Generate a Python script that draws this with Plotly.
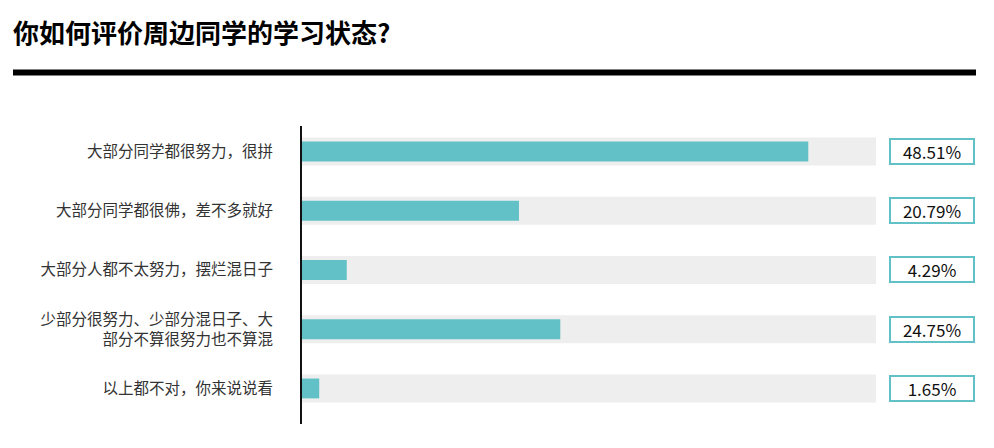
import plotly.graph_objects as go

# survey answers, top to bottom
categories = [
    "大部分同学都很努力，很拼",
    "大部分同学都很佛，差不多就好",
    "大部分人都不太努力，摆烂混日子",
    "少部分很努力、少部分混日子、大<br>部分不算很努力也不算混",
    "以上都不对，你来说说看",
]
shares = [48.51, 20.79, 4.29, 24.75, 1.65]
value_labels = ["48.51%", "20.79%", "4.29%", "24.75%", "1.65%"]
track_max = 55

W, H = 994, 448
TEAL = "#62c1c7"
CJK = "Noto Sans CJK SC"

fig = go.Figure()
# grey background track
fig.add_trace(go.Bar(
    y=list(range(len(categories))), x=[track_max] * len(categories),
    orientation="h", width=0.47, marker=dict(color="#eeeeee", line_width=0),
    hoverinfo="skip", showlegend=False,
))
fig.add_trace(go.Bar(
    y=list(range(len(categories))), x=shares,
    orientation="h", width=0.335, marker=dict(color=TEAL, line_width=0),
    showlegend=False,
))

# boxed percentage values on the right
for i, lab in enumerate(value_labels):
    fig.add_annotation(
        x=932 / W, xref="paper", xanchor="center", y=i, yref="y", yanchor="middle",
        text=lab, showarrow=False, align="center",
        font=dict(family=CJK, size=17, color="#111111"),
        bordercolor=TEAL, borderwidth=2, borderpad=0, width=82, height=23,
        bgcolor="white",
    )

# thick rule under the title
fig.add_shape(type="line", xref="paper", yref="paper",
              x0=13 / W, x1=976 / W, y0=1 - 72.5 / H, y1=1 - 72.5 / H,
              line=dict(color="black", width=6))

fig.update_layout(
    width=W, height=H,
    margin=dict(l=0, r=0, t=0, b=0),
    paper_bgcolor="white", plot_bgcolor="white",
    barmode="overlay",
    title=dict(text="<b>你如何评价周边同学的学习状态?</b>", x=13 / W, xanchor="left",
               y=1 - 34 / H, yanchor="middle",
               font=dict(family=CJK, size=26, color="black")),
    xaxis=dict(domain=[302 / W, 876 / W], range=[0, track_max], visible=False, fixedrange=True),
    yaxis=dict(domain=[1 - 424 / H, 1 - 126 / H], range=[4.6, -0.43],
               tickmode="array", tickvals=list(range(len(categories))), ticktext=categories,
               ticks="", showgrid=False, zeroline=False,
               showline=True, linecolor="#111111", linewidth=2,
               ticklabelstandoff=24,
               tickfont=dict(family=CJK, size=15.5, color="#333333")),
)

fig.write_html("out.html", config={"displayModeBar": False},
               post_script="document.body.style.margin='0';")
